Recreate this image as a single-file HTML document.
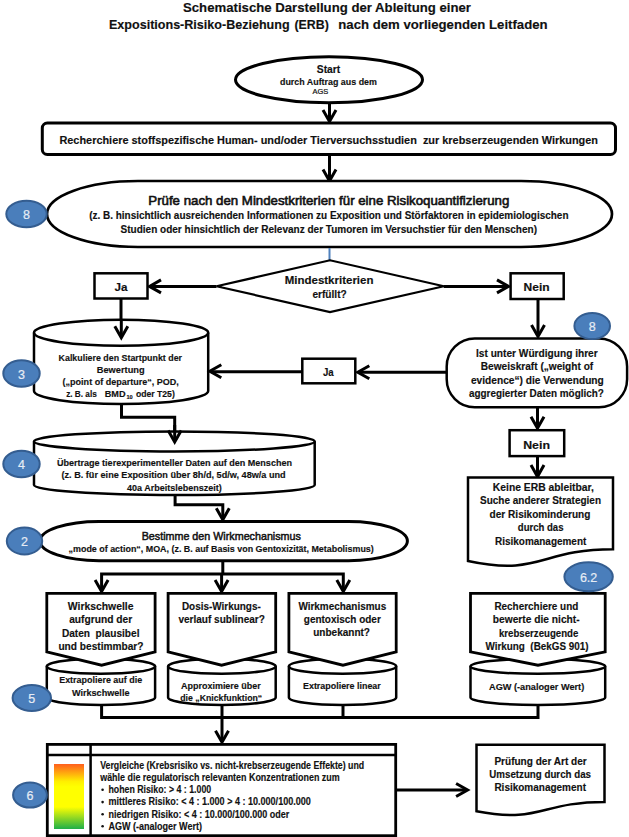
<!DOCTYPE html>
<html><head><meta charset="utf-8"><style>
html,body{margin:0;padding:0;background:#fff;}
svg{display:block;font-family:"Liberation Sans",sans-serif;}
</style></head><body>
<svg width="629" height="837" viewBox="0 0 629 837">
<rect width="629" height="837" fill="#fff"/>
<text x="183.0" y="12.2" font-size="12.5" font-weight="bold" fill="#111" stroke="#111" stroke-width="0.15" textLength="288.0" lengthAdjust="spacingAndGlyphs" style="white-space:pre">Schematische Darstellung der Ableitung einer</text>
<text x="109.0" y="29.3" font-size="12.5" font-weight="bold" fill="#111" stroke="#111" stroke-width="0.15" textLength="180.6" lengthAdjust="spacingAndGlyphs" style="white-space:pre">Expositions-Risiko-Beziehung</text>
<text x="294.5" y="29.3" font-size="12.5" font-weight="bold" fill="#111" stroke="#111" stroke-width="0.15" textLength="34.3" lengthAdjust="spacingAndGlyphs" style="white-space:pre">(ERB)</text>
<text x="338.3" y="29.3" font-size="12.5" font-weight="bold" fill="#111" stroke="#111" stroke-width="0.15" textLength="209.3" lengthAdjust="spacingAndGlyphs" style="white-space:pre">nach dem vorliegenden Leitfaden</text>
<ellipse cx="329" cy="79.8" rx="93.5" ry="23" fill="#fff" stroke="#000" stroke-width="3"/>
<text x="316.8" y="73.0" font-size="10" font-weight="bold" fill="#111" stroke="#111" stroke-width="0.15" textLength="23.4" lengthAdjust="spacingAndGlyphs" style="white-space:pre">Start</text>
<text x="280.0" y="85.0" font-size="9.5" font-weight="bold" fill="#111" stroke="#111" stroke-width="0.15" textLength="96.9" lengthAdjust="spacingAndGlyphs" style="white-space:pre">durch Auftrag aus dem</text>
<text x="312.4" y="94.0" font-size="6.8" font-weight="normal" fill="#111" stroke="#111" stroke-width="0.2" textLength="15.8" lengthAdjust="spacingAndGlyphs" style="white-space:pre">AGS</text>
<path d="M329.5,102 L329.5,121" fill="none" stroke="#000" stroke-width="3" stroke-linejoin="miter"/>
<path d="M323.0,110.0 L329.5,121.5 L336.0,110.0" fill="none" stroke="#000" stroke-width="3" stroke-linecap="butt" stroke-linejoin="miter"/>
<rect x="42.3" y="123" width="573.2" height="31.5" rx="5" fill="#fff" stroke="#000" stroke-width="3"/>
<text x="59.4" y="144.4" font-size="11" font-weight="bold" fill="#111" stroke="#111" stroke-width="0.15" textLength="538.6" lengthAdjust="spacingAndGlyphs" style="white-space:pre">Recherchiere stoffspezifische Human- und/oder Tierversuchsstudien  zur krebserzeugenden Wirkungen</text>
<path d="M329.5,154.5 L329.5,180" fill="none" stroke="#000" stroke-width="3" stroke-linejoin="miter"/>
<path d="M323.0,169.5 L329.5,181 L336.0,169.5" fill="none" stroke="#000" stroke-width="3" stroke-linecap="butt" stroke-linejoin="miter"/>
<path d="M138,181 H521 A91,33.0 0 0 1 521,247 H138 A91,33.0 0 0 1 138,181 Z" fill="#fff" stroke="#000" stroke-width="2.7"/>
<text x="148.3" y="205.0" font-size="13" font-weight="normal" fill="#111" stroke="#111" stroke-width="0.6" textLength="361.0" lengthAdjust="spacingAndGlyphs" style="white-space:pre">Prüfe nach den Mindestkriterien für eine Risikoquantifizierung</text>
<text x="89.2" y="219.0" font-size="10" font-weight="bold" fill="#111" stroke="#111" stroke-width="0.15" textLength="479.3" lengthAdjust="spacingAndGlyphs" style="white-space:pre">(z. B. hinsichtlich ausreichenden Informationen zu Exposition und Störfaktoren in epidemiologischen</text>
<text x="120.6" y="232.9" font-size="10" font-weight="bold" fill="#111" stroke="#111" stroke-width="0.15" textLength="416.4" lengthAdjust="spacingAndGlyphs" style="white-space:pre">Studien oder hinsichtlich der Relevanz der Tumoren im Versuchstier für den Menschen)</text>
<ellipse cx="26.5" cy="214" rx="20.2" ry="13.2" fill="#4A7EBB" stroke="#345D90" stroke-width="2"/>
<text x="26.5" y="219.1" font-size="12.5" fill="#E6ECF5" stroke="#E6ECF5" stroke-width="0.2" text-anchor="middle">8</text>
<path d="M329.5,248 L329.5,260" fill="none" stroke="#4F81BD" stroke-width="2" stroke-linejoin="miter"/>
<path d="M216.5,286.3 L330,260.3 L443.8,286.3 L330,312 Z" fill="#fff" stroke="#000" stroke-width="2.2"/>
<text x="284.7" y="284.0" font-size="10.8" font-weight="bold" fill="#111" stroke="#111" stroke-width="0.15" textLength="88.8" lengthAdjust="spacingAndGlyphs" style="white-space:pre">Mindestkriterien</text>
<text x="312.4" y="298.2" font-size="10.8" font-weight="bold" fill="#111" stroke="#111" stroke-width="0.15" textLength="34.3" lengthAdjust="spacingAndGlyphs" style="white-space:pre">erfüllt?</text>
<path d="M216.5,286.4 L150,286.4" fill="none" stroke="#000" stroke-width="3" stroke-linejoin="miter"/>
<path d="M161.0,279.9 L149.5,286.4 L161.0,292.9" fill="none" stroke="#000" stroke-width="3" stroke-linecap="butt" stroke-linejoin="miter"/>
<path d="M443.8,286.4 L508,286.4" fill="none" stroke="#000" stroke-width="3" stroke-linejoin="miter"/>
<path d="M497.0,279.9 L508.5,286.4 L497.0,292.9" fill="none" stroke="#000" stroke-width="3" stroke-linecap="butt" stroke-linejoin="miter"/>
<rect x="94.5" y="273.3" width="53.0" height="25.19999999999999" rx="0" fill="#fff" stroke="#000" stroke-width="2.5"/>
<text x="114.5" y="291.4" font-size="10.5" font-weight="bold" fill="#111" stroke="#111" stroke-width="0.15" textLength="13.0" lengthAdjust="spacingAndGlyphs" style="white-space:pre">Ja</text>
<rect x="510.6" y="273.3" width="53.10000000000002" height="25.69999999999999" rx="0" fill="#fff" stroke="#000" stroke-width="2.5"/>
<text x="523.6" y="291.4" font-size="10.5" font-weight="bold" fill="#111" stroke="#111" stroke-width="0.15" textLength="26.0" lengthAdjust="spacingAndGlyphs" style="white-space:pre">Nein</text>
<path d="M121,298 L121,337" fill="none" stroke="#000" stroke-width="3" stroke-linejoin="miter"/>
<path d="M114.8,326.3 L121.3,337.8 L127.8,326.3" fill="none" stroke="#000" stroke-width="3" stroke-linecap="butt" stroke-linejoin="miter"/>
<path d="M34,332.7 A87.1,13 0 0 1 208.2,332.7 V391 A87.1,13 0 0 1 34,391 Z" fill="#fff" stroke="#000" stroke-width="2.5"/>
<path d="M34,332.7 A87.1,13 0 0 0 208.2,332.7" fill="none" stroke="#000" stroke-width="2.5"/>
<path d="M121.3,320 L121.3,337" fill="none" stroke="#000" stroke-width="3" stroke-linejoin="miter"/>
<path d="M114.8,326.3 L121.3,337.8 L127.8,326.3" fill="none" stroke="#000" stroke-width="3" stroke-linecap="butt" stroke-linejoin="miter"/>
<text x="58.6" y="360.7" font-size="9.3" font-weight="bold" fill="#111" stroke="#111" stroke-width="0.15" textLength="123.4" lengthAdjust="spacingAndGlyphs" style="white-space:pre">Kalkuliere den Startpunkt der</text>
<text x="96.8" y="372.7" font-size="9.3" font-weight="bold" fill="#111" stroke="#111" stroke-width="0.15" textLength="47.8" lengthAdjust="spacingAndGlyphs" style="white-space:pre">Bewertung</text>
<text x="62.6" y="385.1" font-size="9.3" font-weight="bold" fill="#111" stroke="#111" stroke-width="0.15" textLength="116.2" lengthAdjust="spacingAndGlyphs" style="white-space:pre">(„point of departure“, POD,</text>
<text x="66.2" y="397.3" font-size="9.3" font-weight="bold" fill="#111" stroke="#111" stroke-width="0.15" textLength="30.6" lengthAdjust="spacingAndGlyphs" style="white-space:pre">z. B. als</text>
<text x="104.7" y="397.3" font-size="9.3" font-weight="bold" fill="#111" stroke="#111" stroke-width="0.15" textLength="20.8" lengthAdjust="spacingAndGlyphs" style="white-space:pre">BMD</text>
<text x="126.4" y="399.3" font-size="6" font-weight="bold" fill="#111" stroke="#111" stroke-width="0.15" textLength="6.3" lengthAdjust="spacingAndGlyphs" style="white-space:pre">10</text>
<text x="135.9" y="397.3" font-size="9.3" font-weight="bold" fill="#111" stroke="#111" stroke-width="0.15" textLength="38.9" lengthAdjust="spacingAndGlyphs" style="white-space:pre">oder T25)</text>
<ellipse cx="21.5" cy="373.5" rx="18.2" ry="13.2" fill="#4A7EBB" stroke="#345D90" stroke-width="2"/>
<text x="21.5" y="378.6" font-size="12.5" fill="#E6ECF5" stroke="#E6ECF5" stroke-width="0.2" text-anchor="middle">3</text>
<path d="M446.7,372.3 L358.5,372.3" fill="none" stroke="#000" stroke-width="3" stroke-linejoin="miter"/>
<path d="M369.3,365.8 L357.8,372.3 L369.3,378.8" fill="none" stroke="#000" stroke-width="3" stroke-linecap="butt" stroke-linejoin="miter"/>
<rect x="302.3" y="358.7" width="53.0" height="24.600000000000023" rx="0" fill="#fff" stroke="#000" stroke-width="2.5"/>
<text x="323.0" y="376.0" font-size="10" font-weight="bold" fill="#111" stroke="#111" stroke-width="0.15" textLength="10.7" lengthAdjust="spacingAndGlyphs" style="white-space:pre">Ja</text>
<path d="M302.3,371.8 L211,371.8" fill="none" stroke="#000" stroke-width="3" stroke-linejoin="miter"/>
<path d="M221.3,364.8 L209.8,371.3 L221.3,377.8" fill="none" stroke="#000" stroke-width="3" stroke-linecap="butt" stroke-linejoin="miter"/>
<path d="M538,298.3 L538,335" fill="none" stroke="#000" stroke-width="3" stroke-linejoin="miter"/>
<path d="M531.5,325.0 L538,336.5 L544.5,325.0" fill="none" stroke="#000" stroke-width="3" stroke-linecap="butt" stroke-linejoin="miter"/>
<rect x="446.7" y="338.4" width="180.40000000000003" height="68.90000000000003" rx="28" fill="#fff" stroke="#000" stroke-width="2.5"/>
<text x="476.0" y="357.2" font-size="10" font-weight="bold" fill="#111" stroke="#111" stroke-width="0.15" textLength="121.7" lengthAdjust="spacingAndGlyphs" style="white-space:pre">Ist unter Würdigung ihrer</text>
<text x="480.8" y="370.1" font-size="10" font-weight="bold" fill="#111" stroke="#111" stroke-width="0.15" textLength="112.4" lengthAdjust="spacingAndGlyphs" style="white-space:pre">Beweiskraft („weight of</text>
<text x="470.9" y="383.9" font-size="10" font-weight="bold" fill="#111" stroke="#111" stroke-width="0.15" textLength="132.9" lengthAdjust="spacingAndGlyphs" style="white-space:pre">evidence“) die Verwendung</text>
<text x="469.0" y="396.7" font-size="10" font-weight="bold" fill="#111" stroke="#111" stroke-width="0.15" textLength="134.8" lengthAdjust="spacingAndGlyphs" style="white-space:pre">aggregierter Daten möglich?</text>
<ellipse cx="592.2" cy="326" rx="17.8" ry="13.0" fill="#4A7EBB" stroke="#345D90" stroke-width="2"/>
<text x="592.2" y="331.1" font-size="12.5" fill="#E6ECF5" stroke="#E6ECF5" stroke-width="0.2" text-anchor="middle">8</text>
<path d="M537.5,407.5 L537.5,427" fill="none" stroke="#000" stroke-width="3" stroke-linejoin="miter"/>
<path d="M531.0,416.8 L537.5,428.3 L544.0,416.8" fill="none" stroke="#000" stroke-width="3" stroke-linecap="butt" stroke-linejoin="miter"/>
<rect x="509.6" y="430.2" width="54.60000000000002" height="25.900000000000034" rx="0" fill="#fff" stroke="#000" stroke-width="2.5"/>
<text x="523.2" y="448.5" font-size="10.5" font-weight="bold" fill="#111" stroke="#111" stroke-width="0.15" textLength="26.8" lengthAdjust="spacingAndGlyphs" style="white-space:pre">Nein</text>
<path d="M537.5,456.1 L537.5,475.5" fill="none" stroke="#000" stroke-width="3" stroke-linejoin="miter"/>
<path d="M531.0,465.1 L537.5,476.6 L544.0,465.1" fill="none" stroke="#000" stroke-width="3" stroke-linecap="butt" stroke-linejoin="miter"/>
<path d="M468,477.4 H613 V549.2 C540.5,549.2 540.5,576.5 468,561.0 Z" fill="#fff" stroke="#000" stroke-width="2.5"/>
<text x="492.8" y="490.7" font-size="10" font-weight="bold" fill="#111" stroke="#111" stroke-width="0.15" textLength="101.1" lengthAdjust="spacingAndGlyphs" style="white-space:pre">Keine ERB ableitbar,</text>
<text x="480.0" y="504.2" font-size="10" font-weight="bold" fill="#111" stroke="#111" stroke-width="0.15" textLength="121.0" lengthAdjust="spacingAndGlyphs" style="white-space:pre">Suche anderer Strategien</text>
<text x="489.6" y="517.7" font-size="10" font-weight="bold" fill="#111" stroke="#111" stroke-width="0.15" textLength="100.8" lengthAdjust="spacingAndGlyphs" style="white-space:pre">der Risikominderung</text>
<text x="517.8" y="531.1" font-size="10" font-weight="bold" fill="#111" stroke="#111" stroke-width="0.15" textLength="45.7" lengthAdjust="spacingAndGlyphs" style="white-space:pre">durch das</text>
<text x="495.0" y="544.5" font-size="10" font-weight="bold" fill="#111" stroke="#111" stroke-width="0.15" textLength="91.3" lengthAdjust="spacingAndGlyphs" style="white-space:pre">Risikomanagement</text>
<path d="M121.5,404 L121.5,417.3 L174.7,417.3 L174.7,440" fill="none" stroke="#000" stroke-width="3" stroke-linejoin="miter"/>
<path d="M34,441.4 A140.35,10 0 0 1 314.7,441.4 V485 A140.35,10 0 0 1 34,485 Z" fill="#fff" stroke="#000" stroke-width="2.5"/>
<path d="M34,441.4 A140.35,10 0 0 0 314.7,441.4" fill="none" stroke="#000" stroke-width="2.5"/>
<path d="M174.7,425 L174.7,441" fill="none" stroke="#000" stroke-width="3" stroke-linejoin="miter"/>
<path d="M168.2,430.4 L174.7,441.9 L181.2,430.4" fill="none" stroke="#000" stroke-width="3" stroke-linecap="butt" stroke-linejoin="miter"/>
<text x="56.9" y="465.9" font-size="9.3" font-weight="bold" fill="#111" stroke="#111" stroke-width="0.15" textLength="235.1" lengthAdjust="spacingAndGlyphs" style="white-space:pre">Übertrage tierexperimenteller Daten auf den Menschen</text>
<text x="61.5" y="478.3" font-size="9.3" font-weight="bold" fill="#111" stroke="#111" stroke-width="0.15" textLength="224.2" lengthAdjust="spacingAndGlyphs" style="white-space:pre">(z. B. für eine Exposition über 8h/d, 5d/w, 48w/a und</text>
<text x="127.0" y="490.6" font-size="9.3" font-weight="bold" fill="#111" stroke="#111" stroke-width="0.15" textLength="94.7" lengthAdjust="spacingAndGlyphs" style="white-space:pre">40a Arbeitslebenszeit)</text>
<ellipse cx="21.5" cy="464" rx="18.2" ry="13.2" fill="#4A7EBB" stroke="#345D90" stroke-width="2"/>
<text x="21.5" y="469.1" font-size="12.5" fill="#E6ECF5" stroke="#E6ECF5" stroke-width="0.2" text-anchor="middle">4</text>
<path d="M175.1,494 L175.1,504.8 L222.8,504.8 L222.8,519" fill="none" stroke="#000" stroke-width="3" stroke-linejoin="miter"/>
<path d="M216.3,508.20000000000005 L222.8,519.7 L229.3,508.20000000000005" fill="none" stroke="#000" stroke-width="3" stroke-linecap="butt" stroke-linejoin="miter"/>
<path d="M99,521.4 H348.4 A59,19.650000000000034 0 0 1 348.4,560.7 H99 A59,19.650000000000034 0 0 1 99,521.4 Z" fill="#fff" stroke="#000" stroke-width="3"/>
<text x="141.7" y="539.7" font-size="11.5" font-weight="normal" fill="#111" stroke="#111" stroke-width="0.5" textLength="159.2" lengthAdjust="spacingAndGlyphs" style="white-space:pre">Bestimme den Wirkmechanismus</text>
<text x="68.6" y="551.9" font-size="9.3" font-weight="bold" fill="#111" stroke="#111" stroke-width="0.15" textLength="305.2" lengthAdjust="spacingAndGlyphs" style="white-space:pre">„mode of action“, MOA, (z. B. auf Basis von Gentoxizität, Metabolismus)</text>
<ellipse cx="24.5" cy="541" rx="17.7" ry="13.5" fill="#4A7EBB" stroke="#345D90" stroke-width="2"/>
<text x="24.5" y="546.1" font-size="12.5" fill="#E6ECF5" stroke="#E6ECF5" stroke-width="0.2" text-anchor="middle">2</text>
<path d="M222.8,560.7 L222.8,574" fill="none" stroke="#000" stroke-width="3" stroke-linejoin="miter"/>
<path d="M101.6,591 L101.6,574 L343.3,574 L343.3,591" fill="none" stroke="#000" stroke-width="3" stroke-linejoin="miter"/>
<path d="M221.6,574 L221.6,591" fill="none" stroke="#000" stroke-width="3" stroke-linejoin="miter"/>
<path d="M95.1,580.0 L101.6,591.5 L108.1,580.0" fill="none" stroke="#000" stroke-width="3" stroke-linecap="butt" stroke-linejoin="miter"/>
<path d="M215.1,580.0 L221.6,591.5 L228.1,580.0" fill="none" stroke="#000" stroke-width="3" stroke-linecap="butt" stroke-linejoin="miter"/>
<path d="M336.8,580.0 L343.3,591.5 L349.8,580.0" fill="none" stroke="#000" stroke-width="3" stroke-linecap="butt" stroke-linejoin="miter"/>
<path d="M46.8,666.3 A54.15,7.5 0 0 1 155.1,666.3 V697.5 A54.15,7.5 0 0 1 46.8,697.5 Z" fill="#fff" stroke="#000" stroke-width="2.5"/>
<path d="M46.8,666.3 A54.15,7.5 0 0 0 155.1,666.3" fill="none" stroke="#000" stroke-width="2.5"/>
<path d="M46.8,593.3 H155.1 V651.8 L101.6,665.2 L46.8,651.8 Z" fill="#fff" stroke="#000" stroke-width="2.8" stroke-linejoin="miter"/>
<path d="M168.1,666.3 A53.8,7.5 0 0 1 275.7,666.3 V697.5 A53.8,7.5 0 0 1 168.1,697.5 Z" fill="#fff" stroke="#000" stroke-width="2.5"/>
<path d="M168.1,666.3 A53.8,7.5 0 0 0 275.7,666.3" fill="none" stroke="#000" stroke-width="2.5"/>
<path d="M168.1,593.3 H275.7 V651.8 L221.6,665.2 L168.1,651.8 Z" fill="#fff" stroke="#000" stroke-width="2.8" stroke-linejoin="miter"/>
<path d="M288.9,666.3 A53.650000000000006,7.5 0 0 1 396.2,666.3 V697.5 A53.650000000000006,7.5 0 0 1 288.9,697.5 Z" fill="#fff" stroke="#000" stroke-width="2.5"/>
<path d="M288.9,666.3 A53.650000000000006,7.5 0 0 0 396.2,666.3" fill="none" stroke="#000" stroke-width="2.5"/>
<path d="M288.9,593.3 H396.2 V651.8 L343,665.2 L288.9,651.8 Z" fill="#fff" stroke="#000" stroke-width="2.8" stroke-linejoin="miter"/>
<path d="M470.5,666.3 A67.35000000000002,7.5 0 0 1 605.2,666.3 V697.5 A67.35000000000002,7.5 0 0 1 470.5,697.5 Z" fill="#fff" stroke="#000" stroke-width="2.5"/>
<path d="M470.5,666.3 A67.35000000000002,7.5 0 0 0 605.2,666.3" fill="none" stroke="#000" stroke-width="2.5"/>
<path d="M470.5,593.3 H605.2 V651.8 L538,665.2 L470.5,651.8 Z" fill="#fff" stroke="#000" stroke-width="2.8" stroke-linejoin="miter"/>
<text x="67.8" y="609.9" font-size="10.5" font-weight="bold" fill="#111" stroke="#111" stroke-width="0.15" textLength="65.7" lengthAdjust="spacingAndGlyphs" style="white-space:pre">Wirkschwelle</text>
<text x="69.2" y="623.4" font-size="10.5" font-weight="bold" fill="#111" stroke="#111" stroke-width="0.15" textLength="63.0" lengthAdjust="spacingAndGlyphs" style="white-space:pre">aufgrund der</text>
<text x="61.9" y="636.9" font-size="10.5" font-weight="bold" fill="#111" stroke="#111" stroke-width="0.15" textLength="77.6" lengthAdjust="spacingAndGlyphs" style="white-space:pre">Daten  plausibel</text>
<text x="58.4" y="650.4" font-size="10.5" font-weight="bold" fill="#111" stroke="#111" stroke-width="0.15" textLength="85.1" lengthAdjust="spacingAndGlyphs" style="white-space:pre">und bestimmbar?</text>
<text x="59.2" y="683.0" font-size="9.3" font-weight="bold" fill="#111" stroke="#111" stroke-width="0.15" textLength="83.0" lengthAdjust="spacingAndGlyphs" style="white-space:pre">Extrapoliere auf die</text>
<text x="71.9" y="695.8" font-size="9.3" font-weight="bold" fill="#111" stroke="#111" stroke-width="0.15" textLength="57.6" lengthAdjust="spacingAndGlyphs" style="white-space:pre">Wirkschwelle</text>
<text x="181.9" y="609.9" font-size="10.5" font-weight="bold" fill="#111" stroke="#111" stroke-width="0.15" textLength="78.9" lengthAdjust="spacingAndGlyphs" style="white-space:pre">Dosis-Wirkungs-</text>
<text x="178.4" y="622.9" font-size="10.5" font-weight="bold" fill="#111" stroke="#111" stroke-width="0.15" textLength="86.5" lengthAdjust="spacingAndGlyphs" style="white-space:pre">verlauf sublinear?</text>
<text x="181.0" y="689.1" font-size="9.3" font-weight="bold" fill="#111" stroke="#111" stroke-width="0.15" textLength="79.8" lengthAdjust="spacingAndGlyphs" style="white-space:pre">Approximiere über</text>
<text x="180.3" y="700.7" font-size="9.3" font-weight="bold" fill="#111" stroke="#111" stroke-width="0.15" textLength="81.9" lengthAdjust="spacingAndGlyphs" style="white-space:pre">die „Knickfunktion“</text>
<text x="298.4" y="609.9" font-size="10.5" font-weight="bold" fill="#111" stroke="#111" stroke-width="0.15" textLength="87.8" lengthAdjust="spacingAndGlyphs" style="white-space:pre">Wirkmechanismus</text>
<text x="303.8" y="622.9" font-size="10.5" font-weight="bold" fill="#111" stroke="#111" stroke-width="0.15" textLength="77.0" lengthAdjust="spacingAndGlyphs" style="white-space:pre">gentoxisch oder</text>
<text x="313.2" y="636.4" font-size="10.5" font-weight="bold" fill="#111" stroke="#111" stroke-width="0.15" textLength="56.8" lengthAdjust="spacingAndGlyphs" style="white-space:pre">unbekannt?</text>
<text x="303.0" y="689.1" font-size="9.3" font-weight="bold" fill="#111" stroke="#111" stroke-width="0.15" textLength="77.8" lengthAdjust="spacingAndGlyphs" style="white-space:pre">Extrapoliere linear</text>
<text x="494.4" y="609.7" font-size="10.5" font-weight="bold" fill="#111" stroke="#111" stroke-width="0.15" textLength="83.9" lengthAdjust="spacingAndGlyphs" style="white-space:pre">Recherchiere und</text>
<text x="492.8" y="623.1" font-size="10.5" font-weight="bold" fill="#111" stroke="#111" stroke-width="0.15" textLength="86.8" lengthAdjust="spacingAndGlyphs" style="white-space:pre">bewerte die nicht-</text>
<text x="499.0" y="636.5" font-size="10.5" font-weight="bold" fill="#111" stroke="#111" stroke-width="0.15" textLength="79.3" lengthAdjust="spacingAndGlyphs" style="white-space:pre">krebserzeugende</text>
<text x="485.5" y="649.9" font-size="10.5" font-weight="bold" fill="#111" stroke="#111" stroke-width="0.15" textLength="103.0" lengthAdjust="spacingAndGlyphs" style="white-space:pre">Wirkung  (BekGS 901)</text>
<text x="489.0" y="689.7" font-size="9.3" font-weight="bold" fill="#111" stroke="#111" stroke-width="0.15" textLength="95.2" lengthAdjust="spacingAndGlyphs" style="white-space:pre">AGW (-analoger Wert)</text>
<ellipse cx="588.6" cy="576.8" rx="24.2" ry="14.5" fill="#4A7EBB" stroke="#345D90" stroke-width="2"/>
<text x="588.6" y="581.9" font-size="12.5" fill="#E6ECF5" stroke="#E6ECF5" stroke-width="0.2" text-anchor="middle">6.2</text>
<ellipse cx="31.8" cy="698" rx="19.2" ry="12.899999999999999" fill="#4A7EBB" stroke="#345D90" stroke-width="2"/>
<text x="31.8" y="703.1" font-size="12.5" fill="#E6ECF5" stroke="#E6ECF5" stroke-width="0.2" text-anchor="middle">5</text>
<path d="M101.6,705 L101.6,717.5 L538,717.5 L538,705" fill="none" stroke="#000" stroke-width="3" stroke-linejoin="miter"/>
<path d="M343,705 L343,717.5" fill="none" stroke="#000" stroke-width="3" stroke-linejoin="miter"/>
<path d="M222,705 L222,741" fill="none" stroke="#000" stroke-width="3" stroke-linejoin="miter"/>
<path d="M215.5,730.7 L222,742.2 L228.5,730.7" fill="none" stroke="#000" stroke-width="3" stroke-linecap="butt" stroke-linejoin="miter"/>
<defs><linearGradient id="g" x1="0" y1="0" x2="0" y2="1"><stop offset="0" stop-color="#FF5F1E"/><stop offset="0.27" stop-color="#FFF000"/><stop offset="0.35" stop-color="#FFFF00"/><stop offset="0.66" stop-color="#FFFF00"/><stop offset="1" stop-color="#1EAF48"/></linearGradient></defs>
<rect x="47.3" y="744.4" width="348.4" height="91.30000000000007" rx="0" fill="#fff" stroke="#000" stroke-width="2.8"/>
<path d="M47.3,755 L395.7,755" fill="none" stroke="#000" stroke-width="2.5" stroke-linejoin="miter"/>
<path d="M90.6,744.4 L90.6,835.7" fill="none" stroke="#000" stroke-width="2.5" stroke-linejoin="miter"/>
<rect x="54" y="764" width="30" height="65" fill="url(#g)"/>
<text x="100.2" y="768.9" font-size="10.2" font-weight="bold" fill="#111" stroke="#111" stroke-width="0.15" textLength="264.0" lengthAdjust="spacingAndGlyphs" style="white-space:pre">Vergleiche (Krebsrisiko vs. nicht-krebserzeugende Effekte) und</text>
<text x="100.2" y="781.4" font-size="10.2" font-weight="bold" fill="#111" stroke="#111" stroke-width="0.15" textLength="239.5" lengthAdjust="spacingAndGlyphs" style="white-space:pre">wähle die regulatorisch relevanten Konzentrationen zum</text>
<circle cx="102.6" cy="789.7" r="1.3" fill="#111"/>
<text x="108.4" y="793.0" font-size="10.2" font-weight="bold" fill="#111" stroke="#111" stroke-width="0.15" textLength="102.8" lengthAdjust="spacingAndGlyphs" style="white-space:pre">hohen Risiko: &gt; 4 : 1.000</text>
<circle cx="102.6" cy="802.1000000000001" r="1.3" fill="#111"/>
<text x="108.4" y="805.4" font-size="10.2" font-weight="bold" fill="#111" stroke="#111" stroke-width="0.15" textLength="202.4" lengthAdjust="spacingAndGlyphs" style="white-space:pre">mittleres Risiko: &lt; 4 : 1.000 &gt; 4 : 10.000/100.000</text>
<circle cx="102.6" cy="814.2" r="1.3" fill="#111"/>
<text x="108.4" y="817.5" font-size="10.2" font-weight="bold" fill="#111" stroke="#111" stroke-width="0.15" textLength="180.9" lengthAdjust="spacingAndGlyphs" style="white-space:pre">niedrigen Risiko: &lt; 4 : 10.000/100.000 oder</text>
<circle cx="102.6" cy="826.2" r="1.3" fill="#111"/>
<text x="108.4" y="829.5" font-size="10.2" font-weight="bold" fill="#111" stroke="#111" stroke-width="0.15" textLength="93.6" lengthAdjust="spacingAndGlyphs" style="white-space:pre">AGW (-analoger Wert)</text>
<ellipse cx="30" cy="795" rx="16.9" ry="12.6" fill="#4A7EBB" stroke="#345D90" stroke-width="2"/>
<text x="30" y="800.1" font-size="12.5" fill="#E6ECF5" stroke="#E6ECF5" stroke-width="0.2" text-anchor="middle">6</text>
<path d="M395.7,790 L466,790" fill="none" stroke="#000" stroke-width="3" stroke-linejoin="miter"/>
<path d="M456.1,783.5 L467.6,790 L456.1,796.5" fill="none" stroke="#000" stroke-width="3" stroke-linecap="butt" stroke-linejoin="miter"/>
<path d="M476.5,744.7 H604.5 V801.9 C540.5,801.9 540.5,823.7 476.5,811.3 Z" fill="#fff" stroke="#000" stroke-width="2.5"/>
<text x="494.4" y="765.0" font-size="10" font-weight="bold" fill="#111" stroke="#111" stroke-width="0.15" textLength="92.3" lengthAdjust="spacingAndGlyphs" style="white-space:pre">Prüfung der Art der</text>
<text x="489.3" y="777.7" font-size="10" font-weight="bold" fill="#111" stroke="#111" stroke-width="0.15" textLength="101.7" lengthAdjust="spacingAndGlyphs" style="white-space:pre">Umsetzung durch das</text>
<text x="494.4" y="791.2" font-size="10" font-weight="bold" fill="#111" stroke="#111" stroke-width="0.15" textLength="91.6" lengthAdjust="spacingAndGlyphs" style="white-space:pre">Risikomanagement</text>
</svg></body></html>
